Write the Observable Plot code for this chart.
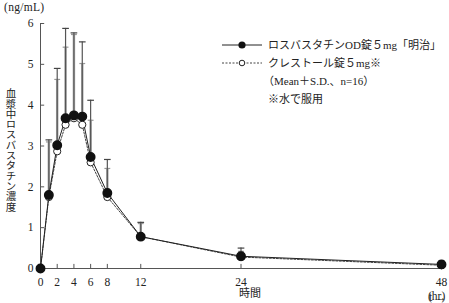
<!DOCTYPE html>
<html><head><meta charset="utf-8">
<script src="https://cdn.jsdelivr.net/npm/d3@7"></script>
<script src="https://cdn.jsdelivr.net/npm/@observablehq/plot@0.6"></script>
<style>
body{margin:0;background:#fff;}
#wrap{position:relative;width:449px;height:303px;font-family:"Liberation Serif","Noto Sans CJK JP",serif;color:#222;}
#wrap svg text{font-family:"Liberation Serif","Noto Sans CJK JP",serif;}
.t{position:absolute;white-space:nowrap;font-size:11px;line-height:1;}
</style></head>
<body><div id="wrap"></div>
<script>
const times = [0,1,2,3,4,5,6,8,12,24,48];
const meanOD = [0,1.80,3.02,3.68,3.75,3.72,2.73,1.85,0.78,0.30,0.10];
const sdOD   = [0,1.35,1.88,2.20,2.02,1.83,1.39,0.82,0.35,0.20,0.08];
const meanCR = [0,1.75,2.87,3.52,3.68,3.52,2.60,1.75,0.78,0.28,0.08];
const sdCR   = [0,1.35,1.76,1.90,2.05,1.50,1.03,0.70,0.32,0.14,0.07];
const xTicks = [0,2,4,6,8,12,24,48];
const yTicks = [0,1,2,3,4,5,6];
const seriesNames = ["ロスバスタチンOD錠５mg「明治」","クレストール錠５mg※"];

const od = times.map((t,i)=>({t, m:meanOD[i], top:meanOD[i]+sdOD[i]}));
const cr = times.map((t,i)=>({t, m:meanCR[i], top:meanCR[i]+sdCR[i]}));
const odE = od.filter(d=>d.t>0), crE = cr.filter(d=>d.t>0);

const chart = Plot.plot({
  width:449, height:303,
  marginLeft:40, marginRight:8, marginTop:23, marginBottom:35,
  style:{fontFamily:'"Liberation Serif","Noto Sans CJK JP",serif', fontSize:"11px", color:"#222"},
  x:{domain:[0,48], axis:null},
  y:{domain:[0,6], axis:null},
  marks:[
    Plot.axisX({ticks:xTicks, tickSize:0, tickPadding:9, tickFormat:d=>String(d), fontSize:11.5}),
    Plot.axisY({ticks:yTicks, tickSize:0, tickPadding:7, tickFormat:d=>String(d), fontSize:11.5}),
    Plot.ruleX(xTicks, {x:d=>d, y1:0, y2:0.1, stroke:"#555"}),
    Plot.ruleY(yTicks, {y:d=>d, x1:0, x2:0.5, stroke:"#555"}),
    Plot.ruleY([0], {stroke:"#555", strokeWidth:1}),
    Plot.ruleX([0], {stroke:"#555", strokeWidth:1}),
    // error bars
    Plot.ruleX(crE, {x:"t", y1:"m", y2:"top", stroke:"#aaa", strokeWidth:2.5}),
    Plot.link(crE, {x1:d=>d.t-0.35, x2:d=>d.t+0.35, y1:"top", y2:"top", stroke:"#999", strokeWidth:1.2}),
    Plot.ruleX(odE, {x:"t", y1:"m", y2:"top", stroke:"#555", strokeWidth:1.2}),
    Plot.link(odE, {x1:d=>d.t-0.4, x2:d=>d.t+0.4, y1:"top", y2:"top", stroke:"#444", strokeWidth:1.2}),
    // lines
    Plot.line(cr, {x:"t", y:"m", stroke:"#444", strokeWidth:1, strokeDasharray:"2,1.5"}),
    Plot.line(od, {x:"t", y:"m", stroke:"#222", strokeWidth:1}),
    Plot.dot(cr, {x:"t", y:"m", r:3.6, fill:"#fff", stroke:"#222", strokeWidth:1}),
    Plot.dot(od, {x:"t", y:"m", r:4.2, fill:"#111", stroke:"#111"})
  ]
});
const wrap = document.getElementById("wrap");
chart.style.position="absolute"; chart.style.left="0"; chart.style.top="0";
wrap.appendChild(chart);

function txt(s, css){const d=document.createElement("div");d.className="t";d.textContent=s;Object.assign(d.style,css);wrap.appendChild(d);return d;}
txt("(ng/mL)",{left:"4px",top:"2px",fontSize:"11.5px",letterSpacing:"0.3px"});
txt("血漿中ロスバスタチン濃度",{left:"4px",top:"88px",writingMode:"vertical-rl",fontSize:"10.5px",letterSpacing:"-0.2px"});
txt("時間",{left:"239px",top:"288px"});
txt("(hr)",{left:"428px",top:"291px",fontSize:"11.5px"});

// legend
const lg = document.createElementNS("http://www.w3.org/2000/svg","svg");
lg.setAttribute("width","50"); lg.setAttribute("height","30");
lg.style.position="absolute"; lg.style.left="220px"; lg.style.top="38px";
lg.innerHTML = `<line x1="2" x2="42" y1="7" y2="7" stroke="#222"/><circle cx="22" cy="7" r="3.6" fill="#111"/>
<line x1="2" x2="42" y1="25" y2="25" stroke="#444" stroke-dasharray="2,1.5"/><circle cx="22" cy="25" r="2.8" fill="#fff" stroke="#222"/>`;
wrap.appendChild(lg);
txt(seriesNames[0],{left:"268px",top:"40px"});
txt(seriesNames[1],{left:"268px",top:"58px"});
txt("（Mean＋S.D.、n=16）",{left:"263px",top:"76px"});
txt("※水で服用",{left:"268px",top:"94px"});
</script></body></html>
